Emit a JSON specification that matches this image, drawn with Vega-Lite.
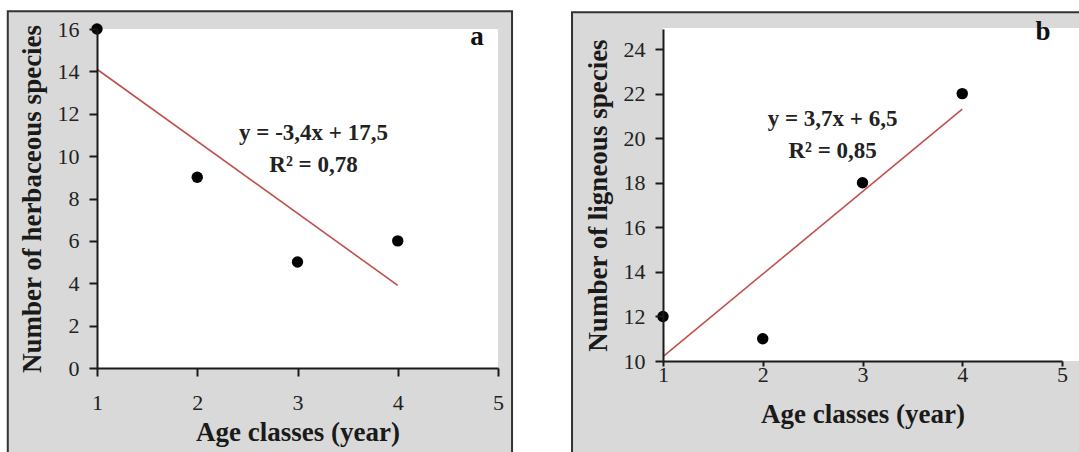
{
  "$schema": "https://vega.github.io/schema/vega-lite/v6.json",
  "background": "white",
  "padding": {"left": 6, "top": 10, "right": 0, "bottom": 0},
  "spacing": 57,
  "datasets": {
    "herb": [
      {"age": 1, "species": 16},
      {"age": 2, "species": 9},
      {"age": 3, "species": 5},
      {"age": 4, "species": 6}
    ],
    "lign": [
      {"age": 1, "species": 12},
      {"age": 2, "species": 11},
      {"age": 3, "species": 18},
      {"age": 4, "species": 22}
    ]
  },
  "config": {
    "view": {"stroke": null, "fill": null},
    "font": "Liberation Serif"
  },
  "hconcat": [
    {
      "width": 401,
      "height": 339,
      "layer": [
        {
          "data": {"values": [{}]},
          "mark": {"type": "rect", "fill": "#d9d9d9", "stroke": "#333333", "strokeWidth": 2, "clip": false},
          "encoding": {
            "x": {"datum": 0.11, "type": "quantitative", "scale": {"domain": [1, 5], "nice": false, "zero": false},
              "axis": {"values": [1, 2, 3, 4, 5], "format": "d", "title": "Age classes (year)", "labelPadding": 16, "titlePadding": 6, "zindex": 2, "labelFlush": false,
                "grid": false, "domainColor": "#1a1a1a", "domainWidth": 2, "tickColor": "#1a1a1a", "tickWidth": 2, "tickSize": 8,
                "labelFont": "Liberation Serif", "labelFontSize": 22, "labelColor": "#222222",
                "titleFont": "Liberation Serif", "titleFontSize": 27, "titleFontWeight": "bold", "titleColor": "#1a1a1a"}},
            "x2": {"datum": 5.14},
            "y": {"datum": -5, "type": "quantitative", "scale": {"domain": [0, 16], "nice": false, "zero": false},
              "axis": {"values": [0, 2, 4, 6, 8, 10, 12, 14, 16], "format": "d", "title": "Number of herbaceous species", "labelPadding": 10, "titlePadding": 11, "zindex": 2, "labelFlush": false,
                "grid": false, "domainColor": "#1a1a1a", "domainWidth": 2, "tickColor": "#1a1a1a", "tickWidth": 2, "tickSize": 8,
                "labelFont": "Liberation Serif", "labelFontSize": 22, "labelColor": "#222222",
                "titleFont": "Liberation Serif", "titleFontSize": 27, "titleFontWeight": "bold", "titleColor": "#1a1a1a"}},
            "y2": {"datum": 16.84}
          }
        },
        {
          "data": {"values": [{}]},
          "mark": {"type": "rect", "fill": "white", "clip": false},
          "encoding": {
            "x": {"datum": 1, "type": "quantitative"},
            "x2": {"datum": 5},
            "y": {"datum": 0, "type": "quantitative"},
            "y2": {"datum": 16}
          }
        },
        {
          "data": {"name": "herb"},
          "transform": [{"regression": "species", "on": "age", "extent": [1, 4]}],
          "mark": {"type": "line", "color": "#c0504d", "strokeWidth": 1.6, "clip": false},
          "encoding": {
            "x": {"field": "age", "type": "quantitative", "title": "Age classes (year)"},
            "y": {"field": "species", "type": "quantitative", "title": "Number of herbaceous species"}
          }
        },
        {
          "data": {"name": "herb"},
          "mark": {"type": "point", "filled": true, "color": "black", "opacity": 1, "size": 130, "clip": false},
          "encoding": {
            "x": {"field": "age", "type": "quantitative", "title": "Age classes (year)"},
            "y": {"field": "species", "type": "quantitative", "title": "Number of herbaceous species"}
          }
        },
        {
          "data": {"values": [{}]},
          "mark": {"type": "text", "font": "Liberation Serif", "fontWeight": "bold", "fontSize": 23, "color": "#222222", "align": "center", "baseline": "middle"},
          "encoding": {
            "x": {"datum": 3.16, "type": "quantitative"},
            "y": {"datum": 11.1, "type": "quantitative"},
            "text": {"value": "y = -3,4x + 17,5"}
          }
        },
        {
          "data": {"values": [{}]},
          "mark": {"type": "text", "font": "Liberation Serif", "fontWeight": "bold", "fontSize": 23, "color": "#222222", "align": "center", "baseline": "middle"},
          "encoding": {
            "x": {"datum": 3.16, "type": "quantitative"},
            "y": {"datum": 9.6, "type": "quantitative"},
            "text": {"value": "R² = 0,78"}
          }
        },
        {
          "data": {"values": [{}]},
          "mark": {"type": "text", "font": "Liberation Serif", "fontWeight": "bold", "fontSize": 27, "color": "#111111", "align": "center", "baseline": "middle"},
          "encoding": {
            "x": {"datum": 4.79, "type": "quantitative"},
            "y": {"datum": 15.6, "type": "quantitative"},
            "text": {"value": "a"}
          }
        }
      ]
    },
    {
      "width": 399,
      "height": 332,
      "layer": [
        {
          "data": {"values": [{}]},
          "mark": {"type": "rect", "fill": "#d9d9d9", "stroke": "#333333", "strokeWidth": 2, "clip": false},
          "encoding": {
            "x": {"datum": 0.088, "type": "quantitative", "scale": {"domain": [1, 5], "nice": false, "zero": false},
              "axis": {"values": [1, 2, 3, 4, 5], "format": "d", "title": "Age classes (year)", "labelPadding": -2, "titlePadding": 16, "zindex": 2, "labelFlush": false,
                "grid": false, "domainColor": "#1a1a1a", "domainWidth": 2, "tickColor": "#1a1a1a", "tickWidth": 2, "tickSize": 5,
                "labelFont": "Liberation Serif", "labelFontSize": 22, "labelColor": "#222222",
                "titleFont": "Liberation Serif", "titleFontSize": 27, "titleFontWeight": "bold", "titleColor": "#1a1a1a"}},
            "x2": {"datum": 5.3},
            "y": {"datum": 5, "type": "quantitative", "scale": {"domain": [10, 24.9], "nice": false, "zero": false},
              "axis": {"values": [10, 12, 14, 16, 18, 20, 22, 24], "format": "d", "title": "Number of ligneous species", "labelPadding": 10, "titlePadding": 11, "zindex": 2, "labelFlush": false,
                "grid": false, "domainColor": "#1a1a1a", "domainWidth": 2, "tickColor": "#1a1a1a", "tickWidth": 2, "tickSize": 8,
                "labelFont": "Liberation Serif", "labelFontSize": 22, "labelColor": "#222222",
                "titleFont": "Liberation Serif", "titleFontSize": 27, "titleFontWeight": "bold", "titleColor": "#1a1a1a"}},
            "y2": {"datum": 25.65}
          }
        },
        {
          "data": {"values": [{}]},
          "mark": {"type": "rect", "fill": "white", "clip": false},
          "encoding": {
            "x": {"datum": 1, "type": "quantitative"},
            "x2": {"datum": 5.3},
            "y": {"datum": 10, "type": "quantitative"},
            "y2": {"datum": 24.95}
          }
        },
        {
          "data": {"name": "lign"},
          "transform": [{"regression": "species", "on": "age", "extent": [1, 4]}],
          "mark": {"type": "line", "color": "#c0504d", "strokeWidth": 1.6, "clip": false},
          "encoding": {
            "x": {"field": "age", "type": "quantitative", "title": "Age classes (year)"},
            "y": {"field": "species", "type": "quantitative", "title": "Number of ligneous species"}
          }
        },
        {
          "data": {"name": "lign"},
          "mark": {"type": "point", "filled": true, "color": "black", "opacity": 1, "size": 130, "clip": false},
          "encoding": {
            "x": {"field": "age", "type": "quantitative", "title": "Age classes (year)"},
            "y": {"field": "species", "type": "quantitative", "title": "Number of ligneous species"}
          }
        },
        {
          "data": {"values": [{}]},
          "mark": {"type": "text", "font": "Liberation Serif", "fontWeight": "bold", "fontSize": 23, "color": "#222222", "align": "center", "baseline": "middle"},
          "encoding": {
            "x": {"datum": 2.7, "type": "quantitative"},
            "y": {"datum": 20.87, "type": "quantitative"},
            "text": {"value": "y = 3,7x + 6,5"}
          }
        },
        {
          "data": {"values": [{}]},
          "mark": {"type": "text", "font": "Liberation Serif", "fontWeight": "bold", "fontSize": 23, "color": "#222222", "align": "center", "baseline": "middle"},
          "encoding": {
            "x": {"datum": 2.7, "type": "quantitative"},
            "y": {"datum": 19.44, "type": "quantitative"},
            "text": {"value": "R² = 0,85"}
          }
        },
        {
          "data": {"values": [{}]},
          "mark": {"type": "text", "font": "Liberation Serif", "fontWeight": "bold", "fontSize": 27, "color": "#111111", "align": "center", "baseline": "middle"},
          "encoding": {
            "x": {"datum": 4.81, "type": "quantitative"},
            "y": {"datum": 24.75, "type": "quantitative"},
            "text": {"value": "b"}
          }
        }
      ]
    }
  ]
}
